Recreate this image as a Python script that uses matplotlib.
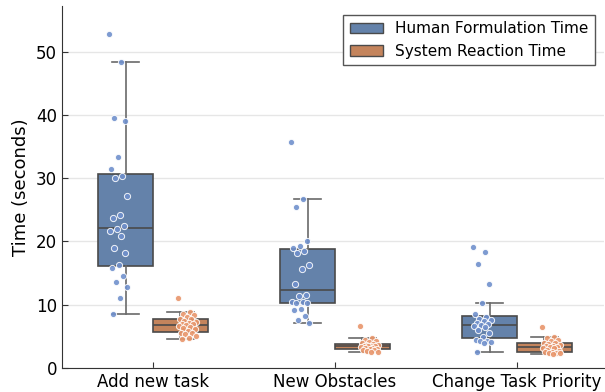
import numpy as np
import matplotlib
matplotlib.use("Agg")
import matplotlib.pyplot as plt
from matplotlib.patches import Patch

categories = ["Add new task", "New Obstacles", "Change Task Priority"]
series_names = ["Human Formulation Time", "System Reaction Time"]

human_add = [52.8, 48.4, 39.5, 39.1, 33.3, 31.4, 30.4, 30.1, 27.2, 24.1, 23.7, 22.4,
             22.0, 21.7, 20.9, 19.0, 18.1, 16.2, 15.8, 14.6, 13.6, 12.8, 11.0, 8.6]
human_obst = [35.7, 26.7, 25.5, 20.0, 19.3, 19.0, 18.5, 18.2, 16.2, 15.6, 13.3, 11.5,
              11.3, 10.5, 10.5, 10.2, 10.2, 9.3, 9.2, 8.2, 7.6, 7.1]
human_prio = [19.1, 18.4, 16.5, 13.3, 10.2, 8.5, 8.1, 7.8, 7.6, 7.4, 7.1, 6.9,
              6.8, 6.6, 6.4, 6.0, 5.5, 4.9, 4.5, 4.3, 4.2, 4.1, 3.9, 2.5]
system_add = [11.1, 8.9, 8.6, 8.3, 8.0, 7.8, 7.7, 7.5, 7.3, 7.1, 7.0, 6.9,
              6.8, 6.7, 6.5, 6.3, 6.1, 5.8, 5.6, 5.5, 5.3, 5.1, 4.8, 4.6]
system_obst = [6.6, 4.8, 4.5, 4.3, 4.1, 3.9, 3.8, 3.7, 3.6, 3.5, 3.5, 3.4,
               3.4, 3.3, 3.2, 3.1, 3.0, 3.0, 2.9, 2.8, 2.7, 2.6, 2.5]
system_prio = [6.4, 4.9, 4.7, 4.4, 4.2, 4.0, 3.9, 3.8, 3.6, 3.5, 3.4, 3.3,
               3.3, 3.2, 3.1, 2.9, 2.7, 2.5, 2.5, 2.4, 2.4, 2.3, 2.2]

human = [human_add, human_obst, human_prio]
system = [system_add, system_obst, system_prio]

box_colors = ["#6482AA", "#C4845C"]
dot_colors = ["#7090CC", "#E8956A"]
edge = "#4a4a4a"

fig = plt.figure(figsize=(6.05, 3.92), dpi=100)
ax = fig.add_axes([62/605, (392-368)/392, (604-62)/605, (368-6)/392])

x = np.arange(len(categories))
bw = 0.3
for k, data in enumerate([human, system]):
    off = -0.15 if k == 0 else 0.15
    ax.boxplot(data, positions=x + off, widths=bw, patch_artist=True,
               showfliers=False, whis=1.5, capwidths=bw / 2,
               boxprops=dict(facecolor=box_colors[k], edgecolor=edge, linewidth=1.2),
               medianprops=dict(color=edge, linewidth=1.2),
               whiskerprops=dict(color="#6a6a6a", linewidth=1.2),
               capprops=dict(color="#6a6a6a", linewidth=1.2),
               manage_ticks=False, zorder=2)
    dot_center = -0.19 if k == 0 else 0.19
    for i, vals in enumerate(data):
        vals = np.asarray(vals)
        n = len(vals)
        j = (((np.arange(n) * 0.618034) % 1.0) - 0.5) * 0.1
        ax.scatter(np.full(n, x[i] + dot_center) + j, vals, s=20,
                   facecolor=dot_colors[k], edgecolor="white", linewidth=0.7,
                   alpha=0.9, zorder=3)

ax.set_xlim(-0.5, 2.478)
ax.set_ylim(0, 57.2)
ax.set_xticks(x)
ax.set_xticklabels(categories, fontsize=12)
ax.set_yticks([0, 10, 20, 30, 40, 50])
ax.tick_params(axis="y", labelsize=12, direction="in", length=4, color="#333333")
ax.tick_params(axis="x", direction="in", length=4, color="#333333")
ax.set_ylabel("Time (seconds)", fontsize=13)
ax.yaxis.grid(True, color="#e6e6e6", linewidth=1.0)
ax.set_axisbelow(True)
for s in ["top", "right"]:
    ax.spines[s].set_visible(False)
for s in ["left", "bottom"]:
    ax.spines[s].set_color("#333333")

handles = [Patch(facecolor=box_colors[0], edgecolor=edge), Patch(facecolor=box_colors[1], edgecolor=edge)]
ax.legend(handles, series_names, loc="upper right", fontsize=11, fancybox=False,
          edgecolor="#555555", framealpha=1, borderaxespad=0.6, handlelength=2.2)

fig.savefig("out.png", dpi=100)
